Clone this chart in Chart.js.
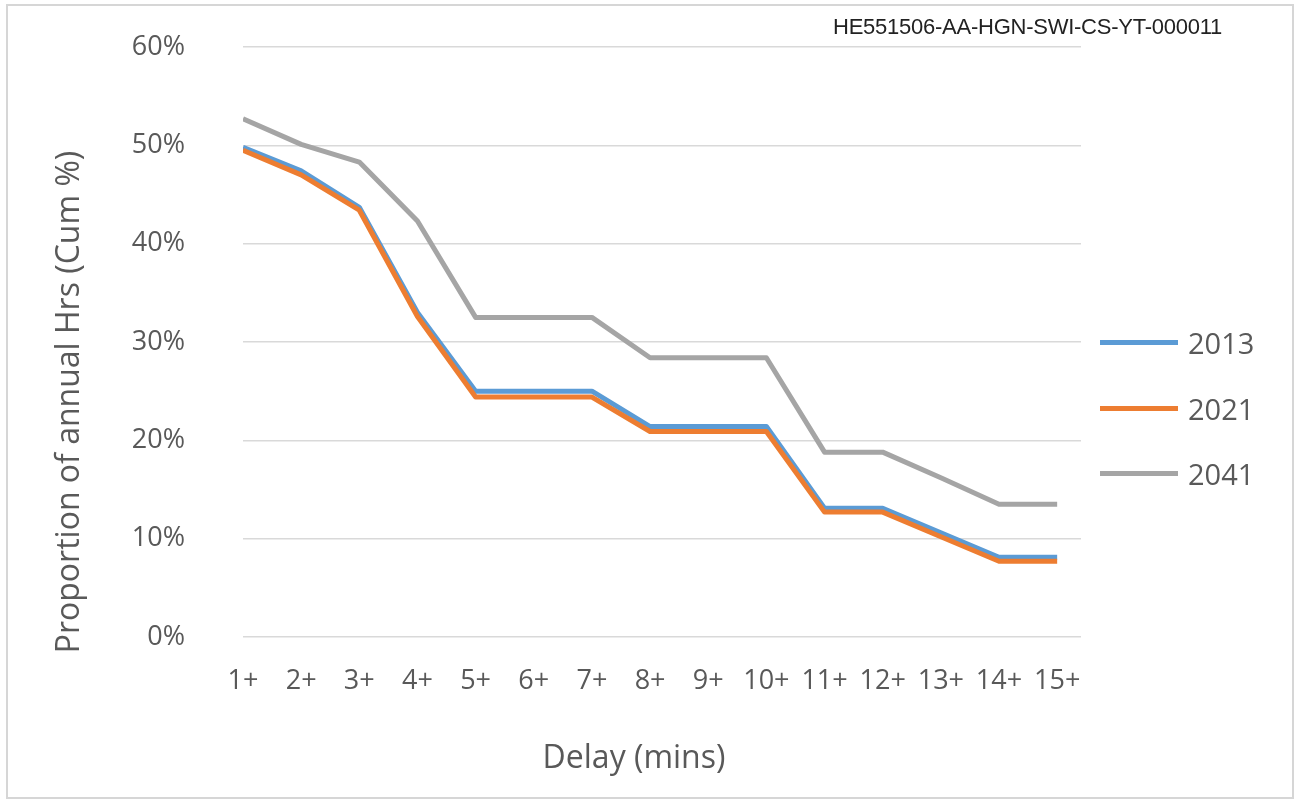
<!DOCTYPE html>
<html>
<head>
<meta charset="utf-8">
<script src="https://cdn.jsdelivr.net/npm/chart.js@4/dist/chart.umd.min.js"></script>
<style>
  html, body { margin: 0; padding: 0; background: #fff; }
  #wrap { position: relative; width: 1296px; height: 807px; overflow: hidden; }
  #frame { position: absolute; left: 6px; top: 4px; width: 1284px; height: 791px; border: 2px solid #d6d6d6; box-sizing: content-box; }
  canvas { position: absolute; left: 0; top: 0; }
  .txt { position: absolute; font-family: "Open Sans", sans-serif; color: #595959; white-space: nowrap; }
  #ytitle { font-size: 32px; left: 66px; top: 402px; transform: translate(-50%, -50%) rotate(-90deg); }
  #xtitle { font-size: 32px; left: 634px; top: 755px; transform: translate(-50%, -50%); }
  #doc { position: absolute; font-family: "Liberation Sans", Arial, sans-serif; font-size: 22px; color: #222; right: 74px; top: 14px; letter-spacing: -0.25px; }
  .leg { position: absolute; left: 1100px; height: 0; }
  .leg .ln { position: absolute; left: 0; top: -2.5px; width: 78px; height: 5px; }
  .leg .lb { position: absolute; left: 88px; top: 0; transform: translateY(-50%); font-family: "Open Sans", sans-serif; font-size: 29px; color: #595959; }
</style>
</head>
<body>
<div id="wrap">
  <canvas id="c" width="1296" height="807"></canvas>
  <div id="frame"></div>
  <div id="doc">HE551506-AA-HGN-SWI-CS-YT-000011</div>
  <div id="ytitle" class="txt">Proportion of annual Hrs (Cum %)</div>
  <div id="xtitle" class="txt">Delay (mins)</div>
  <div id="legend"></div>
</div>
<script>
const categories = ['1+','2+','3+','4+','5+','6+','7+','8+','9+','10+','11+','12+','13+','14+','15+'];
const seriesNames = ['2013','2021','2041'];
const values2013 = [49.8,47.4,43.7,33.0,25.0,25.0,25.0,21.4,21.4,21.4,13.1,13.1,10.6,8.1,8.1];
const values2021 = [49.5,47.0,43.4,32.6,24.4,24.4,24.4,20.9,20.9,20.9,12.7,12.7,10.2,7.7,7.7];
const values2041 = [52.7,50.1,48.3,42.3,32.5,32.5,32.5,28.4,28.4,28.4,18.8,18.8,16.2,13.5,13.5];
const yTicks = [0,10,20,30,40,50,60];
const colors = ['#5B9BD5','#ED7D31','#A5A5A5'];

const allValues = [values2013, values2021, values2041];
const drawOrder = [1, 0, 2];
const datasets = allValues.map((vals, i) => ({
  label: seriesNames[i],
  data: vals.map((v, k) => ({ x: k + 1, y: v })),
  borderColor: colors[i],
  backgroundColor: colors[i],
  borderWidth: 5,
  pointRadius: 0,
  tension: 0,
  borderJoinStyle: 'round',
  borderCapStyle: 'butt',
  order: drawOrder[i]
}));

const legendDiv = document.getElementById('legend');
const legendY = [342, 408, 473];
seriesNames.forEach((n, i) => {
  const d = document.createElement('div');
  d.className = 'leg';
  d.style.top = legendY[i] + 'px';
  d.innerHTML = '<div class="ln" style="background:' + colors[i] + '"></div><div class="lb">' + n + '</div>';
  legendDiv.appendChild(d);
});

const tickFont = { family: 'Open Sans', size: 27 };
new Chart(document.getElementById('c'), {
  type: 'line',
  data: { datasets },
  options: {
    responsive: false,
    animation: false,
    layout: { padding: { left: 46, top: 47, right: 215, bottom: 22 } },
    plugins: { legend: { display: false }, tooltip: { enabled: false } },
    scales: {
      x: {
        type: 'linear',
        min: 1,
        max: 15.41,
        grid: { display: false, drawTicks: false },
        border: { display: false },
        afterBuildTicks: (scale) => {
          scale.ticks = categories.map((c, i) => ({ value: i + 1 }));
        },
        ticks: {
          autoSkip: false,
          maxRotation: 0,
          padding: 28,
          color: '#595959',
          font: tickFont,
          callback: (v) => categories[Math.round(v) - 1] || ''
        },
        afterFit: (scale) => { scale.height = 148; scale.paddingLeft = 0; scale.paddingRight = 0; }
      },
      y: {
        min: yTicks[0],
        max: yTicks[yTicks.length - 1],
        afterBuildTicks: (scale) => {
          scale.ticks = yTicks.map(v => ({ value: v }));
        },
        grid: { color: '#d9d9d9', lineWidth: 1.5, drawTicks: false },
        border: { display: false },
        ticks: {
          padding: 58,
          color: '#595959',
          font: tickFont,
          callback: (v) => v + '%'
        },
        afterFit: (scale) => { scale.width = 197; scale.paddingTop = 0; scale.paddingBottom = 0; }
      }
    }
  }
});
</script>
</body>
</html>
